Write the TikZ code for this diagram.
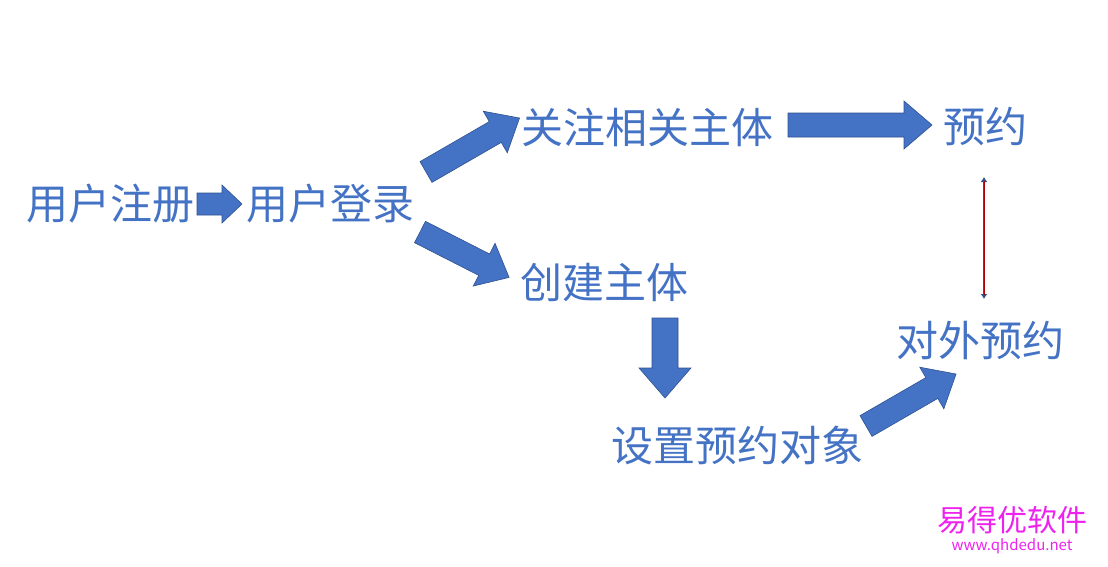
\documentclass[tikz,border=0pt]{standalone}
\usepackage{fontspec}
\setmainfont{Noto Sans CJK SC}
\usetikzlibrary{arrows.meta}
\definecolor{ppblue}{HTML}{4472C4}
\definecolor{ppedge}{HTML}{2F528F}
\definecolor{wmpink}{HTML}{EE22EE}
% block arrow: #1 start, #2 angle, #3 length, #4 shaft width, #5 head width, #6 head length
\newcommand{\blockarr}[6]{%
  \begin{scope}[shift={#1},rotate=#2]
    \filldraw[fill=ppblue,draw=ppedge,line width=0.6pt]
      (0,-#4/2) -- (#3-#6,-#4/2) -- (#3-#6,-#5/2) -- (#3,0)
      -- (#3-#6,#5/2) -- (#3-#6,#4/2) -- (0,#4/2) -- cycle;
  \end{scope}}
\begin{document}
\begin{tikzpicture}[x=1pt,y=-1pt]
  \tikzset{label/.style={text=ppblue,font=\fontsize{42}{46}\selectfont,inner sep=0pt}};

  \useasboundingbox (0,0) rectangle (1108,566);

  \node[label] (reg) at (111,204) {用户注册};
  \node[label] (login) at (330,204) {用户登录};
  \node[label] (follow) at (647,127) {关注相关主体};
  \node[label] (book) at (985,127) {预约};
  \node[label] (create) at (604,283) {创建主体};
  \node[label] (setobj) at (737,446) {设置预约对象};
  \node[label] (outbook) at (980,340) {对外预约};

  \blockarr{(197,204)}{0}{45}{22}{38}{20}
  \blockarr{(426,172)}{30}{108}{24}{48}{28}
  \blockarr{(420,232)}{-27}{100}{24}{48}{28}
  \blockarr{(788,125)}{0}{144}{24}{48}{28}
  \blockarr{(665,318)}{-90}{80}{26}{52}{30}
  \blockarr{(866,426)}{30}{104}{24}{48}{28}

  \coordinate (t1) at (984,177);
  \coordinate (t2) at (984,299);
  \draw[ppedge,line width=2.4pt,{Latex[length=5pt,width=7pt]}-{Latex[length=5pt,width=7pt]}] (t1) -- (t2);
  \draw[red!70!black,line width=0.8pt,shorten <=4pt,shorten >=4pt] (t1) -- (t2);

  \node[text=wmpink,font=\fontsize{30}{32}\selectfont,inner sep=0pt] (wm) at (1012,520) {易得优软件};
  \node[text=wmpink,font=\fontsize{15}{17}\selectfont,inner sep=0pt] (url) at (1012,546) {www.qhdedu.net};
\end{tikzpicture}
\end{document}
